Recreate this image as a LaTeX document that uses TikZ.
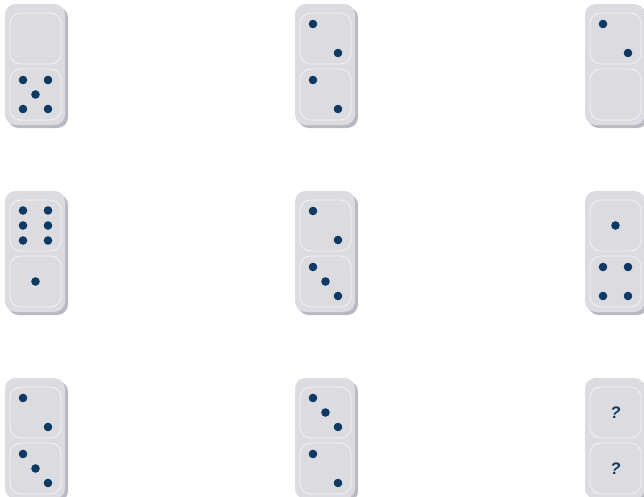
\documentclass[tikz,border=0pt]{standalone}
\usepackage{fontspec}
\newfontfamily\qfont{Liberation Sans}
\definecolor{facecol}{HTML}{DCDCE0}
\definecolor{shadecol}{HTML}{B9B9C1}
\definecolor{linecol}{HTML}{F3F3F5}
\definecolor{pipcol}{HTML}{0D3A64}
\tikzset{
  dominoface/.style={fill=facecol, rounded corners=8},
  dominoshade/.style={fill=shadecol, rounded corners=8},
  halfbox/.style={draw=linecol, line width=0.6pt, rounded corners=8},
  qmark/.style={text=pipcol, font=\qfont\bfseries\itshape\fontsize{12.5}{14}\selectfont, inner sep=0pt}
}
\newcommand\pipat[2]{\fill[pipcol] (#1,#2) circle[radius=4.3];}
\newcommand\facepips[1]{%
  \ifcase#1\relax
  \or \pipat{0}{0}%
  \or \pipat{-12.5}{-14.5}\pipat{12.5}{14.5}%
  \or \pipat{-12.5}{-14.5}\pipat{0}{0}\pipat{12.5}{14.5}%
  \or \pipat{-12.5}{-14.5}\pipat{12.5}{-14.5}\pipat{-12.5}{14.5}\pipat{12.5}{14.5}%
  \or \pipat{-12.5}{-14.5}\pipat{12.5}{-14.5}\pipat{0}{0}\pipat{-12.5}{14.5}\pipat{12.5}{14.5}%
  \or \pipat{-12.5}{-15}\pipat{12.5}{-15}\pipat{-12.5}{0}\pipat{12.5}{0}\pipat{-12.5}{15}\pipat{12.5}{15}%
  \or \node[qmark] at (0,0) {?};%
  \fi}
\newcommand\domino[4]{%
  \begin{scope}[shift={(#1,#2)}]
    \fill[dominoshade] (3,3) rectangle (63,124);
    \fill[dominoface] (0,0) rectangle (60,121);
    \draw[halfbox] (5,9) rectangle (56,60);
    \draw[halfbox] (5,65) rectangle (56,116);
    \begin{scope}[shift={(30.5,34.5)}]\facepips{#3}\end{scope}
    \begin{scope}[shift={(30.5,90.5)}]\facepips{#4}\end{scope}
  \end{scope}}
\begin{document}
\begin{tikzpicture}[x=0.75pt,y=-0.75pt]
  \useasboundingbox (0,0) rectangle (644,497);
  \domino{5}{4}{0}{5}
  \domino{295}{4}{2}{2}
  \domino{585}{4}{2}{0}
  \domino{5}{191}{6}{1}
  \domino{295}{191}{2}{3}
  \domino{585}{191}{1}{4}
  \domino{5}{378}{2}{3}
  \domino{295}{378}{3}{2}
  \domino{585}{378}{7}{7}
\end{tikzpicture}
\end{document}
